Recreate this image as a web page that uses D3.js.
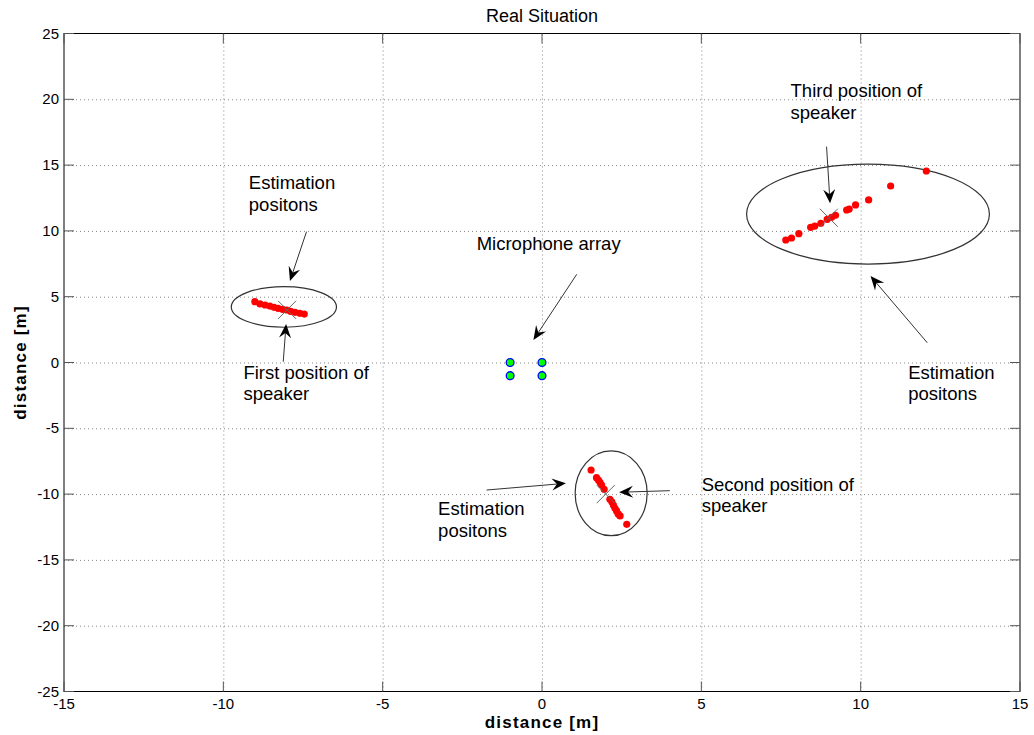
<!DOCTYPE html>
<html>
<head>
<meta charset="utf-8">
<script src="https://cdn.jsdelivr.net/npm/d3@7"></script>
<style>
  body { margin: 0; background: #fff; }
  text { font-family: "Liberation Sans", Arial, sans-serif; }
</style>
</head>
<body>
<script>
// ticks
const xTicks = [-15, -10, -5, 0, 5, 10, 15];
const yTicks = [-25, -20, -15, -10, -5, 0, 5, 10, 15, 20, 25];

// microphone array
const micX = [-1, 0, -1, 0];
const micY = [0, 0, -1, -1];

// real speaker positions
const speakerX = [-8, 2, 9];
const speakerY = [4, -10, 11];

// estimated positions, one list per speaker position
const est1X = [-9.01, -8.85, -8.69, -8.54, -8.41, -8.28, -8.14, -8.01, -7.89, -7.75, -7.60, -7.46];
const est1Y = [4.62, 4.45, 4.37, 4.29, 4.19, 4.12, 4.04, 3.99, 3.89, 3.81, 3.74, 3.68];
const est2X = [1.54, 1.71, 1.77, 1.82, 1.87, 1.95, 2.13, 2.19, 2.24, 2.29, 2.34, 2.39, 2.45, 2.66];
const est2Y = [-8.17, -8.75, -8.93, -9.10, -9.31, -9.64, -10.40, -10.58, -10.83, -11.08, -11.28, -11.51, -11.66, -12.30];
const est3X = [7.65, 7.83, 8.06, 8.43, 8.56, 8.75, 8.95, 9.09, 9.21, 9.56, 9.64, 9.84, 10.25, 10.94, 12.06];
const est3Y = [9.31, 9.46, 9.79, 10.27, 10.37, 10.58, 10.88, 11.03, 11.19, 11.59, 11.66, 11.97, 12.35, 13.41, 14.55];

// ellipses round the estimates (centre and half axes, data units)
const ellCx = [-8.10, 2.17, 10.23];
const ellCy = [4.22, -9.94, 11.28];
const ellRx = [1.65, 1.13, 3.81];
const ellRy = [1.54, 3.22, 3.80];

// annotations: text anchor, arrow start and arrow tip (data units)
const noteText = [
  ["Estimation", "positons"],
  ["First position of", "speaker"],
  ["Microphone array"],
  ["Third position of", "speaker"],
  ["Estimation", "positons"],
  ["Estimation", "positons"],
  ["Second position of", "speaker"]
];
const noteX = [-9.20, -9.37, -2.05, 7.80, 11.49, -3.26, 5.01];
const noteY = [13.18, -1.25, 8.55, 20.15, -1.25, -11.59, -9.74];
const arrowX0 = [-7.39, -8.12, 1.09, 8.93, 12.09, -1.74, 4.01];
const arrowY0 = [9.94, 0.06, 6.70, 16.40, 1.50, -9.69, -9.74];
const arrowX1 = [-7.91, -8.03, -0.27, 9.04, 10.31, 0.75, 2.42];
const arrowY1 = [6.19, 2.93, 1.71, 12.10, 6.57, -9.18, -9.86];

const W = 1034, H = 735;
const mLeft = 64, mRight = 1020, mTop = 33.5, mBottom = 691.5;

const svg = d3.select("body").append("svg")
  .attr("width", W)
  .attr("height", H);

const x = d3.scaleLinear().domain([-15, 15]).range([mLeft, mRight]);
const y = d3.scaleLinear().domain([-25, 25]).range([mBottom, mTop]);

// grid
svg.append("g")
  .attr("transform", `translate(0,${mBottom})`)
  .call(d3.axisBottom(x).tickValues(xTicks.slice(1, -1)).tickSize(-(mBottom - mTop)).tickFormat(""))
  .call(g => g.select(".domain").remove())
  .selectAll("line")
  .attr("stroke", "#888")
  .attr("stroke-dasharray", "1,3");

svg.append("g")
  .attr("transform", `translate(${mLeft},0)`)
  .call(d3.axisLeft(y).tickValues(yTicks.slice(1, -1)).tickSize(-(mRight - mLeft)).tickFormat(""))
  .call(g => g.select(".domain").remove())
  .selectAll("line")
  .attr("stroke", "#888")
  .attr("stroke-dasharray", "1,3");

// ellipses
svg.append("g").selectAll("ellipse")
  .data(ellCx)
  .join("ellipse")
  .attr("cx", d => x(d))
  .attr("cy", (d, i) => y(ellCy[i]))
  .attr("rx", (d, i) => x(d + ellRx[i]) - x(d))
  .attr("ry", (d, i) => y(ellCy[i]) - y(ellCy[i] + ellRy[i]))
  .attr("fill", "none")
  .attr("stroke", "#333")
  .attr("stroke-width", 1.2);

// estimates
const est = [];
[[est1X, est1Y], [est2X, est2Y], [est3X, est3Y]].forEach(([xs, ys]) => {
  xs.forEach((v, i) => est.push([v, ys[i]]));
});
svg.append("g").selectAll("circle")
  .data(est)
  .join("circle")
  .attr("cx", d => x(d[0]))
  .attr("cy", d => y(d[1]))
  .attr("r", 3.6)
  .attr("fill", "#ff0000");

// microphones
svg.append("g").selectAll("circle")
  .data(micX)
  .join("circle")
  .attr("cx", d => x(d))
  .attr("cy", (d, i) => y(micY[i]))
  .attr("r", 3.9)
  .attr("fill", "#00ff00")
  .attr("stroke", "#0000ff")
  .attr("stroke-width", 1.3);

// speakers, x markers
const cross = svg.append("g").attr("stroke", "#666").attr("stroke-width", 1);
speakerX.forEach((v, i) => {
  const cx = x(v), cy = y(speakerY[i]), s = 9;
  cross.append("line").attr("x1", cx - s).attr("y1", cy - s).attr("x2", cx + s).attr("y2", cy + s);
  cross.append("line").attr("x1", cx - s).attr("y1", cy + s).attr("x2", cx + s).attr("y2", cy - s);
});

// annotations
const notes = svg.append("g");
noteText.forEach((lines, i) => {
  const t = notes.append("text")
    .attr("x", x(noteX[i]))
    .attr("y", y(noteY[i]))
    .attr("font-size", 18.5)
    .attr("fill", "#000");
  lines.forEach((s, k) => {
    t.append("tspan")
      .attr("x", x(noteX[i]))
      .attr("dy", k === 0 ? 0 : 21.5)
      .text(s);
  });

  const x0 = x(arrowX0[i]), y0 = y(arrowY0[i]);
  const x1 = x(arrowX1[i]), y1 = y(arrowY1[i]);
  const a = Math.atan2(y1 - y0, x1 - x0);
  const len = 14, hw = 6, notch = 9;
  const ux = Math.cos(a), uy = Math.sin(a);
  const px = -uy, py = ux;
  const bx = x1 - ux * len, by = y1 - uy * len;
  const nx = x1 - ux * notch, ny = y1 - uy * notch;
  notes.append("line")
    .attr("x1", x0).attr("y1", y0)
    .attr("x2", nx).attr("y2", ny)
    .attr("stroke", "#333")
    .attr("stroke-width", 1);
  notes.append("path")
    .attr("d", `M${x1},${y1}L${bx + px * hw},${by + py * hw}L${nx},${ny}L${bx - px * hw},${by - py * hw}Z`)
    .attr("fill", "#000");
});

// frame and ticks (inward, on all four sides)
svg.append("rect")
  .attr("x", mLeft).attr("y", mTop)
  .attr("width", mRight - mLeft).attr("height", mBottom - mTop)
  .attr("fill", "none")
  .attr("stroke", "#000")
  .attr("stroke-width", 1);

const tickLen = 10;
const tk = svg.append("g").attr("stroke", "#555").attr("stroke-width", 1);
xTicks.forEach(v => {
  tk.append("line").attr("x1", x(v)).attr("x2", x(v)).attr("y1", mBottom).attr("y2", mBottom - tickLen);
  tk.append("line").attr("x1", x(v)).attr("x2", x(v)).attr("y1", mTop).attr("y2", mTop + tickLen);
});
yTicks.forEach(v => {
  tk.append("line").attr("x1", mLeft).attr("x2", mLeft + tickLen).attr("y1", y(v)).attr("y2", y(v));
  tk.append("line").attr("x1", mRight).attr("x2", mRight - tickLen).attr("y1", y(v)).attr("y2", y(v));
});

// tick labels
svg.append("g").selectAll("text")
  .data(xTicks)
  .join("text")
  .attr("x", d => x(d))
  .attr("y", mBottom + 17)
  .attr("text-anchor", "middle")
  .attr("font-size", 15)
  .text(d => d);

svg.append("g").selectAll("text")
  .data(yTicks)
  .join("text")
  .attr("x", mLeft - 5)
  .attr("y", d => y(d) + 5)
  .attr("text-anchor", "end")
  .attr("font-size", 15)
  .text(d => d);

// title and axis labels
svg.append("text")
  .attr("x", (mLeft + mRight) / 2)
  .attr("y", 22)
  .attr("text-anchor", "middle")
  .attr("font-size", 18)
  .text("Real Situation");

svg.append("text")
  .attr("x", (mLeft + mRight) / 2)
  .attr("y", 728)
  .attr("text-anchor", "middle")
  .attr("font-size", 17)
  .attr("font-weight", "bold")
  .attr("letter-spacing", 1.2)
  .text("distance [m]");

svg.append("text")
  .attr("transform", `translate(26,${(mTop + mBottom) / 2}) rotate(-90)`)
  .attr("text-anchor", "middle")
  .attr("font-size", 17)
  .attr("font-weight", "bold")
  .attr("letter-spacing", 1.2)
  .text("distance [m]");
</script>
</body>
</html>
